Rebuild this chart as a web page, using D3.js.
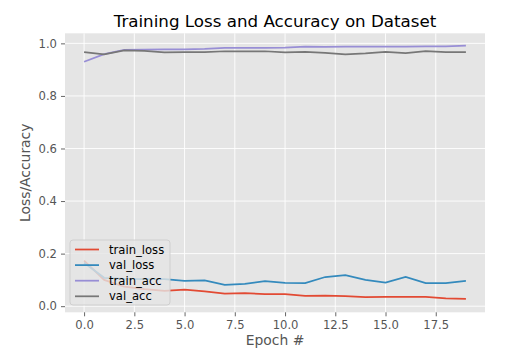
<!DOCTYPE html>
<html>
<head>
<meta charset="utf-8">
<script src="https://cdn.jsdelivr.net/npm/d3@7"></script>
<style>
  body { margin: 0; background: #fff; }
  text { font-family: "DejaVu Sans", sans-serif; }
</style>
</head>
<body>
<div id="chart"></div>
<script>
// Data ////////////////////////////////////////////////
const epochs = d3.range(0, 20);
const train_loss = [0.173, 0.100, 0.074, 0.065, 0.058, 0.063, 0.056, 0.048, 0.050, 0.046, 0.046, 0.039, 0.040, 0.038, 0.034, 0.035, 0.035, 0.035, 0.030, 0.028];
const val_loss   = [0.165, 0.108, 0.104, 0.103, 0.103, 0.096, 0.098, 0.081, 0.085, 0.095, 0.089, 0.088, 0.111, 0.118, 0.100, 0.090, 0.111, 0.088, 0.088, 0.096];
const train_acc  = [0.930, 0.959, 0.975, 0.976, 0.977, 0.977, 0.979, 0.983, 0.983, 0.983, 0.984, 0.988, 0.987, 0.988, 0.988, 0.988, 0.988, 0.989, 0.989, 0.991];
const val_acc    = [0.967, 0.958, 0.973, 0.971, 0.966, 0.967, 0.967, 0.970, 0.970, 0.970, 0.966, 0.968, 0.964, 0.958, 0.962, 0.968, 0.963, 0.970, 0.967, 0.967];
const xTicks = [0, 2.5, 5, 7.5, 10, 12.5, 15, 17.5];
const yTicks = [0, 0.2, 0.4, 0.6, 0.8, 1.0];

const series = [
  { name: 'train_loss', values: train_loss, color: '#E24A33' },
  { name: 'val_loss',   values: val_loss,   color: '#348ABD' },
  { name: 'train_acc',  values: train_acc,  color: '#988ED5' },
  { name: 'val_acc',    values: val_acc,    color: '#777777' }
];

// SVG setup //////////////////////////////////////////////////////////////////
const width = 531, height = 352;
const margin = { top: 33.3, right: 46, bottom: 39.7, left: 65 };
const iw = width - margin.left - margin.right;
const ih = height - margin.top - margin.bottom;

const svg = d3.select('#chart').append('svg')
  .attr('width', width)
  .attr('height', height)
  .attr('viewBox', [0, 0, width, height]);

const g = svg.append('g').attr('transform', `translate(${margin.left},${margin.top})`);

const x = d3.scaleLinear().domain([-0.95, 19.95]).range([0, iw]);
const y = d3.scaleLinear().domain([-0.0233, 1.0383]).range([ih, 0]);

g.append('rect').attr('width', iw).attr('height', ih).attr('fill', '#E5E5E5');

// grid
g.append('g').selectAll('line').data(xTicks).join('line')
  .attr('x1', d => x(d)).attr('x2', d => x(d))
  .attr('y1', 0).attr('y2', ih)
  .attr('stroke', '#fff').attr('stroke-width', 0.9);
g.append('g').selectAll('line').data(yTicks).join('line')
  .attr('y1', d => y(d)).attr('y2', d => y(d))
  .attr('x1', 0).attr('x2', iw)
  .attr('stroke', '#fff').attr('stroke-width', 0.9);

// axes
const xAxis = g.append('g').attr('transform', `translate(0,${ih})`)
  .call(d3.axisBottom(x).tickValues(xTicks).tickFormat(d3.format('.1f')).tickSize(4).tickPadding(4));
const yAxis = g.append('g')
  .call(d3.axisLeft(y).tickValues(yTicks).tickFormat(d3.format('.1f')).tickSize(4).tickPadding(4));
[xAxis, yAxis].forEach(a => {
  a.select('.domain').remove();
  a.selectAll('line').attr('stroke', '#555').attr('stroke-width', 0.9);
  a.selectAll('text').attr('fill', '#555').style('font-size', '11.6px');
});

// lines
const line = d3.line().x((d, i) => x(epochs[i])).y(d => y(d));
g.append('g').selectAll('path').data(series).join('path')
  .attr('d', d => line(d.values))
  .attr('fill', 'none')
  .attr('stroke', d => d.color)
  .attr('stroke-width', 1.75);

// labels
svg.append('text').attr('x', margin.left + iw / 2).attr('y', 26.5)
  .attr('text-anchor', 'middle').style('font-size', '16.7px').attr('fill', '#000')
  .text('Training Loss and Accuracy on Dataset');
svg.append('text').attr('x', margin.left + iw / 2).attr('y', 345)
  .attr('text-anchor', 'middle').style('font-size', '13.9px').attr('fill', '#555')
  .text('Epoch #');
svg.append('text').attr('transform', `translate(30,${margin.top + ih / 2}) rotate(-90)`)
  .attr('text-anchor', 'middle').style('font-size', '13.9px').attr('fill', '#555')
  .text('Loss/Accuracy');

// legend
const lg = g.append('g').attr('transform', `translate(${70 - margin.left},${240 - margin.top})`);
lg.append('rect').attr('width', 100).attr('height', 65).attr('rx', 3)
  .attr('fill', '#E5E5E5').attr('fill-opacity', 0.8)
  .attr('stroke', '#CCCCCC').attr('stroke-width', 0.9);
const items = lg.selectAll('g.item').data(series).join('g')
  .attr('transform', (d, i) => `translate(0,${9.5 + i * 15.6})`);
items.append('line').attr('x1', 5).attr('x2', 29)
  .attr('stroke', d => d.color).attr('stroke-width', 1.75);
items.append('text').attr('x', 39).attr('dy', '0.35em')
  .style('font-size', '11.6px').attr('fill', '#000')
  .text(d => d.name);
</script>
</body>
</html>
